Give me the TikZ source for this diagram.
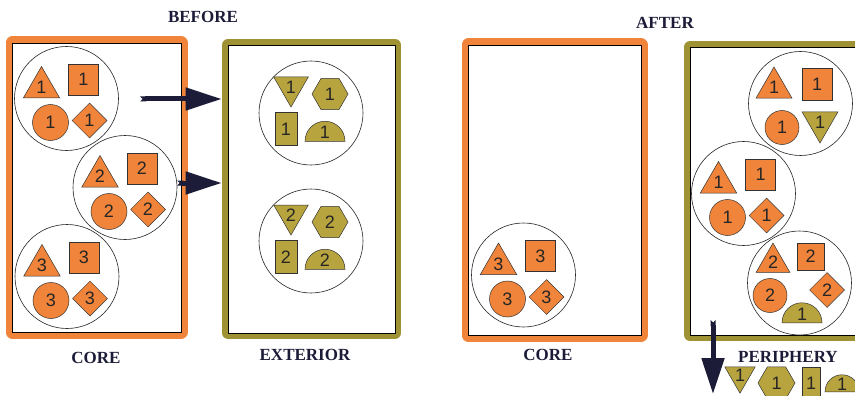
\documentclass[tikz,border=0pt]{standalone}
\usepackage{fontspec}
\setmainfont{Liberation Serif}
\setsansfont{Liberation Sans}
\usepackage{tikz}
\usetikzlibrary{shapes.geometric, arrows.meta, positioning}

\definecolor{coreorange}{RGB}{240,132,58}
\definecolor{extolive}{RGB}{184,164,62}
\definecolor{oliveedge}{RGB}{158,146,52}
\definecolor{inkblue}{RGB}{28,28,56}

\begin{document}
\begin{tikzpicture}[
  x=1pt, y=-1pt,
  zone/.style={rectangle, draw=black, line width=0.7pt, fill=white, line join=round},
  corezone/.style={zone, preaction={draw=coreorange, line width=13pt}},
  extzone/.style={zone, preaction={draw=oliveedge, line width=12pt}},
  ring/.style={circle, draw=black!85, line width=0.6pt, minimum size=104pt, inner sep=0pt},
  piece/.style={draw=black!80, line width=0.5pt, inner sep=0pt, text=black!85,
               font=\fontsize{18}{18}\sffamily},
  coretri/.style={piece, fill=coreorange, regular polygon, regular polygon sides=3, minimum size=42pt},
  coresq/.style={piece, fill=coreorange, rectangle, minimum width=30pt, minimum height=31pt},
  coredisc/.style={piece, fill=coreorange, circle, minimum size=36pt},
  corediam/.style={piece, fill=coreorange, diamond, minimum width=35pt, minimum height=35pt},
  exttri/.style={piece, fill=extolive, regular polygon, regular polygon sides=3,
                 shape border rotate=180, minimum size=40pt},
  exthex/.style={piece, fill=extolive, regular polygon, regular polygon sides=6, minimum size=36pt},
  extbar/.style={piece, fill=extolive, rectangle, minimum width=22pt, minimum height=33pt},
  extdome/.style={piece, fill=extolive, semicircle, minimum width=40pt, anchor=chord center},
  zonelabel/.style={font=\fontsize{17}{17}\selectfont\bfseries, text=inkblue},
  bigarrow/.style={draw=inkblue, line width=5pt,
                   {Triangle Cap[reversed]}-{Triangle[length=36pt, width=22pt]}},
  pics/coregroup/.style={code={
    \node[ring] (-ring) at (0,0) {};
    \node[coretri] (-tri) at (-25,-11) {#1};
    \node[coresq] (-sq) at (17,-19) {#1};
    \node[coredisc] (-disc) at (-16,24) {#1};
    \node[corediam] (-diam) at (23,22) {#1};
  }},
  pics/extgroup/.style={code={
    \node[ring] (-ring) at (0,0) {};
    \node[exttri] (-tri) at (-20,-26) {#1};
    \node[exthex] (-hex) at (19,-19) {#1};
    \node[extbar] (-bar) at (-25,16) {#1};
    \node[extdome] (-dome) at (14,28.5) {#1};
  }}
]
\useasboundingbox (0,0) rectangle (855,396);
\clip (0,0) rectangle (855,396);

% before
\node[zonelabel] (before) at (203,16.5) {BEFORE};
\node[corezone, minimum width=169pt, minimum height=289pt] (corebefore) at (96.5,187.5) {};
\node[extzone, minimum width=167pt, minimum height=288pt] (exterior) at (311.5,189) {};
\node[zonelabel] (corelbl) at (96,358) {CORE};
\node[zonelabel] (extlbl) at (305,354.5) {EXTERIOR};

\pic (b1) at (66.5,98.5) {coregroup=1};
\pic (b2) at (125,187.5) {coregroup=2};
\pic (b3) at (67,276.5) {coregroup=3};
\pic (e1) at (311,113) {extgroup=1};
\pic (e2) at (311,241) {extgroup=2};

\coordinate (push1) at (140,99);
\coordinate (push2) at (177,183);
\draw[bigarrow] (push1) -- ([xshift=-6pt]push1 -| exterior.west);
\draw[bigarrow] (push2) -- ([xshift=-6pt]push2 -| exterior.west);

% after
\node[zonelabel] (after) at (665,23) {AFTER};
\node[corezone, minimum width=173pt, minimum height=290pt] (coreafter) at (554.5,190) {};
\node[extzone, minimum width=190pt, minimum height=288pt] (periphery) at (785,191) {};
\node[zonelabel] (corelbl2) at (548,355) {CORE};
\node[zonelabel] (perilbl) at (788,357) {PERIPHERY};

\pic (a3) at (523.5,275) {coregroup=3};
\pic (p2) at (743.5,193.5) {coregroup=1};

\node[ring] (p1) at (800.5,103.5) {};
\node[coretri, minimum size=41.6pt] (p1tri) at (774,87.8) {1};
\node[coresq, minimum height=32pt] (p1sq) at (817,84) {1};
\node[coredisc, minimum size=34pt] (p1disc) at (782,127.5) {1};
\node[exttri, minimum size=41.6pt] (p1ext) at (820,122.2) {1};

\node[ring] (p3) at (799.5,283) {};
\node[coretri, minimum size=39pt] (p3tri) at (773,262.6) {2};
\node[coresq, minimum width=27pt, minimum height=27pt] (p3sq) at (810.5,256.5) {2};
\node[coredisc, minimum size=34pt] (p3disc) at (770,295.5) {2};
\node[corediam] (p3diam) at (827,290) {2};
\node[extdome] (p3dome) at (802,323) {1};

\coordinate (drop) at (713,320);
\coordinate (dropend) at (713,394);
\draw[bigarrow] (drop) -- (dropend);

\node[exttri, minimum size=34.6pt] (outtri) at (740,375.7) {1};
\node[exthex, minimum size=37pt] (outhex) at (776.5,383) {1};
\node[extbar, minimum width=18pt] (outbar) at (811,383.5) {1};
\node[extdome, minimum width=34pt] (outdome) at (842,392) {1};

\end{tikzpicture}
\end{document}
